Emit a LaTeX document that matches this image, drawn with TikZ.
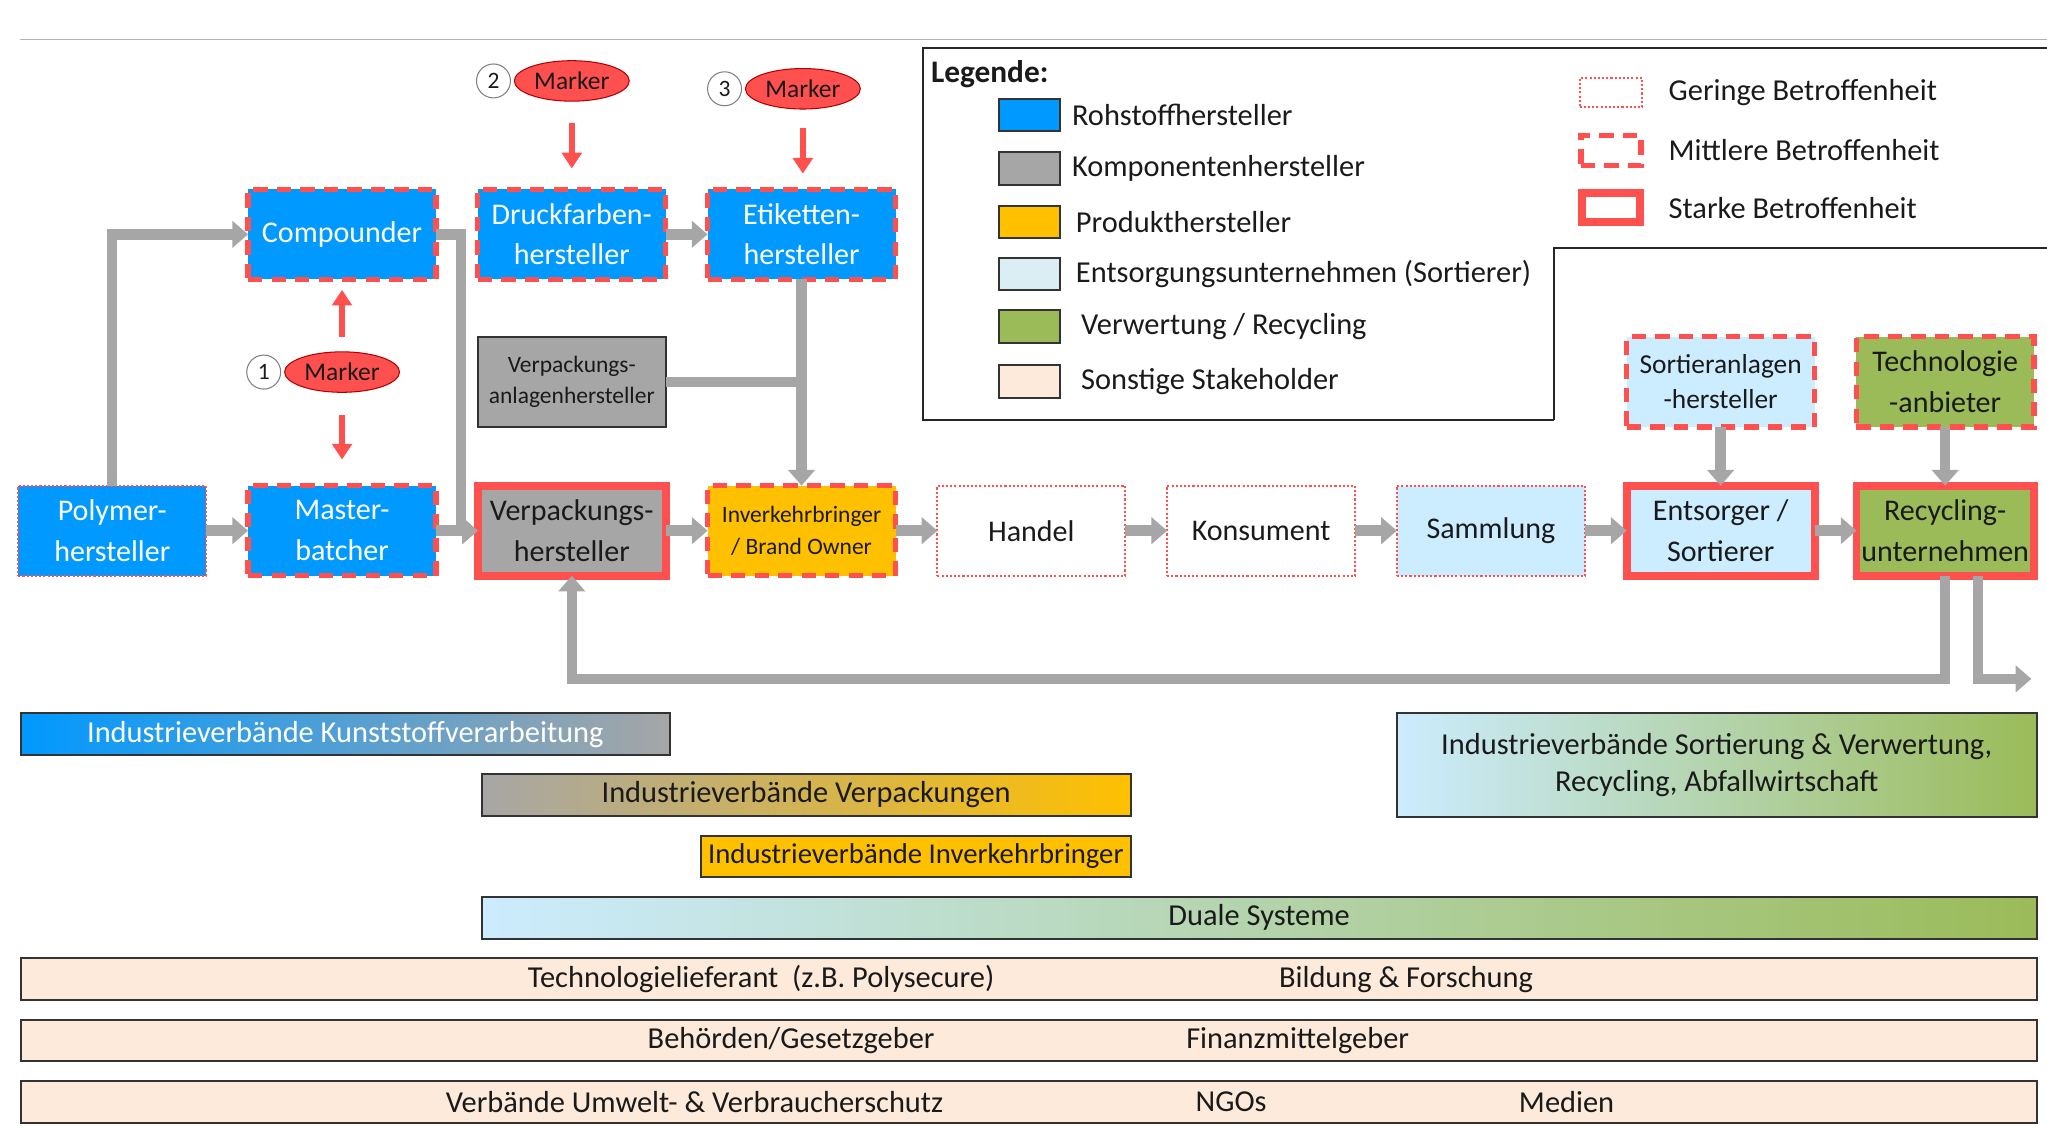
\documentclass[tikz,border=0pt]{standalone}
\usepackage{fontspec}
\setmainfont{Carlito}
\usetikzlibrary{positioning,arrows.meta,shapes.geometric}
\definecolor{rohblau}{RGB}{0,153,255}
\definecolor{kompgrau}{RGB}{166,166,166}
\definecolor{prodgelb}{RGB}{255,192,0}
\definecolor{entsblau}{RGB}{204,236,255}
\definecolor{legblau}{RGB}{218,238,243}
\definecolor{verwgruen}{RGB}{155,187,89}
\definecolor{sonstig}{RGB}{253,234,218}
\definecolor{rotlinie}{RGB}{255,80,80}
\definecolor{pfeilgrau}{RGB}{166,166,166}
\definecolor{textschwarz}{RGB}{26,26,26}

\begin{document}
\begin{tikzpicture}[x=1pt, y=-1pt, node distance=32pt and 32pt, text=textschwarz,
  box/.style={minimum width=144pt, minimum height=69pt, inner sep=0pt, outer sep=0pt, align=center,
    font=\fontsize{23}{31}\selectfont},
  klein/.style={font=\fontsize{18}{24.5}\selectfont},
  gering/.style={draw=rotlinie, line width=1.6pt, dash pattern=on 1.6pt off 1.6pt},
  mittel/.style={draw=rotlinie, line width=4pt, dash pattern=on 11pt off 7pt},
  stark/.style={draw=rotlinie, line width=6pt},
  pfeil/.style={draw=pfeilgrau, line width=8pt, -{Triangle[length=12pt,width=20pt]}},
  linie/.style={draw=pfeilgrau, line width=8pt},
  rotpfeil/.style={draw=rotlinie, line width=5pt, -{Triangle[length=12pt,width=15pt]}},
  markerel/.style={ellipse, fill=rotlinie, draw=red!70!black, line width=0.8pt, minimum width=88pt,
    minimum height=31pt, inner sep=0pt, outer sep=0pt, font=\fontsize{19.5}{22}\selectfont},
  nummer/.style={circle, draw=gray, fill=white, line width=0.8pt, minimum size=26pt, inner sep=0pt,
    outer sep=0pt, font=\fontsize{18}{20}\selectfont},
  rahmen/.style={draw=black!85, line width=1.5pt},
  legtext/.style={anchor=west, inner sep=0pt, font=\fontsize{23.3}{27}\selectfont},
  farbfeld/.style={draw=black!80, line width=1.5pt, minimum width=47pt, minimum height=25pt, inner sep=0pt,
    outer sep=0pt},
  balken/.style={draw=black!80, line width=1.5pt, minimum height=32pt, inner sep=0pt, outer sep=0pt,
    align=center, font=\fontsize{23.3}{28}\selectfont},
  balkentext/.style={inner sep=0pt, font=\fontsize{23.3}{27}\selectfont}]
  \useasboundingbox (0,0) rectangle (1568,862);
  \draw[gray!60, line width=1pt] (15,30) -- (1568,30);

  % Hauptkette
  \node[box, gering, fill=rohblau, text=white] (poly) at (86,406.5) {Polymer-\\hersteller};
  \node[box, mittel, fill=rohblau, text=white, right=of poly] (master) {Master-\\batcher};
  \node[box, stark, fill=kompgrau, right=of master] (verp) {Verpackungs-\\hersteller};
  \node[box, klein, mittel, fill=prodgelb, right=of verp] (inv) {Inverkehrbringer\\/ Brand Owner};
  \node[box, gering, fill=white, right=of inv] (handel) {Handel};
  \node[box, gering, fill=white, right=of handel] (kons) {Konsument};
  \node[box, gering, fill=entsblau, right=of kons] (samml) {Sammlung};
  \node[box, stark, fill=entsblau, right=of samml] (entsorg) {Entsorger /\\Sortierer};
  \node[box, stark, fill=verwgruen, minimum width=136pt, right=of entsorg] (recyc) {Recycling-\\unternehmen};

  % Zulieferer oben
  \node[box, mittel, fill=rohblau, text=white, above=158pt of master] (comp) {Compounder};
  \node[box, mittel, fill=rohblau, text=white, right=of comp] (druck) {Druckfarben-\\hersteller};
  \node[box, mittel, fill=rohblau, text=white, right=of druck] (etik) {Etiketten-\\hersteller};
  \node[box, klein, fill=kompgrau, draw=black!80, line width=1.5pt, above=45pt of verp] (vaa) {Verpackungs-\\anlagenhersteller};
  \node[box, mittel, fill=entsblau, font=\fontsize{21}{27}\selectfont, above=45pt of entsorg] (sortanl) {Sortieranlagen\\-hersteller};
  \node[box, mittel, fill=verwgruen, minimum width=136pt, above=45pt of recyc] (techanb) {Technologie\\-anbieter};

  % Marker
  \node[markerel] (m1) at (262,285) {Marker};
  \node[nummer, left=3pt of m1] (n1) {1};
  \node[markerel] (m2) at (438,62) {Marker};
  \node[nummer, left=3pt of m2] (n2) {2};
  \node[markerel] (m3) at (615,68) {Marker};
  \node[nummer, left=3pt of m3] (n3) {3};
  \draw[rotpfeil, shorten <=11.5pt, shorten >=8pt] (m1.north) -- (m1.north |- comp.south);
  \draw[rotpfeil, shorten <=17.5pt, shorten >=20pt] (m1.south) -- (m1.south |- master.north);
  \draw[rotpfeil, shorten <=17pt, shorten >=16pt] (m2.south) -- (m2.south |- druck.north);
  \draw[rotpfeil, shorten <=14.5pt, shorten >=12pt] (m3.south) -- (m3.south |- etik.north);

  % Fluesse
  \draw[pfeil] (poly) -- (master);
  \draw[pfeil] (poly.north) |- (comp.west);
  \draw[pfeil] (comp.east) -- ++(19,0) |- (verp.west);
  \draw[pfeil] (master) -- (verp);
  \draw[pfeil] (druck) -- (etik);
  \draw[linie] (vaa.east) -- (vaa.east -| etik.south);
  \draw[pfeil] (etik) -- (inv);
  \foreach \a/\b in {verp/inv, inv/handel, handel/kons, kons/samml, samml/entsorg, entsorg/recyc}
    \draw[pfeil] (\a) -- (\b);
  \draw[pfeil] (sortanl) -- (entsorg);
  \draw[pfeil] (techanb) -- (recyc);
  \draw[pfeil] (recyc.south) -- ++(0,79) -| (verp.south);
  \coordinate (ausgang) at (1556,520);
  \draw[pfeil] ([xshift=25pt]recyc.south) |- (ausgang);

  % Legende
  \draw[rahmen] (1190,322) -- (707,322) -- (707,37) -- (1570,37);
  \draw[rahmen] (1190,322) -- (1190,190) -- (1570,190);
  \node[anchor=west, inner sep=0pt, font=\fontsize{24}{28}\selectfont\bfseries] (legende) at (713,57) {Legende:};
  \foreach \y/\farbe/\abst/\bez [count=\i] in {88/rohblau/9/Rohstoffhersteller, 129/kompgrau/9/Komponentenhersteller,
      170/prodgelb/12/Produkthersteller, 210/legblau/12/{Entsorgungsunternehmen (Sortierer)},
      250/verwgruen/16/{Verwertung / Recycling}, 292/sonstig/16/Sonstige Stakeholder} {
    \node[farbfeld, fill=\farbe] (feld\i) at (788.5,\y) {};
    \node[legtext, right=\abst pt of feld\i] (legtext\i) {\bez};
  }
  \node[gering, minimum width=48pt, minimum height=22pt] (grad1) at (1234,71) {};
  \node[mittel, minimum width=46pt, minimum height=23pt] (grad2) at (1234,115) {};
  \node[stark, minimum width=44pt, minimum height=22pt] (grad3) at (1234,159) {};
  \node[legtext] (gradtext1) at (1278,71) {Geringe Betroffenheit};
  \node[legtext] (gradtext2) at (1278,115) {Mittlere Betroffenheit};
  \node[legtext] (gradtext3) at (1278,159) {Starke Betroffenheit};

  % Verbaende und sonstige Stakeholder
  \node[balken, minimum width=497pt, left color=rohblau, right color=kompgrau, text=white] (ivkunst)
    at (264.5,562.5) {Industrieverbände Kunststoffverarbeitung};
  \node[balken, minimum width=497pt, left color=kompgrau, right color=prodgelb] (ivverp)
    at (617.5,609) {Industrieverbände Verpackungen};
  \node[balken, minimum width=329pt, fill=prodgelb, font=\fontsize{22}{26}\selectfont] (ivinv)
    at (701.5,656) {Industrieverbände Inverkehrbringer};
  \node[balken, minimum width=490pt, minimum height=80pt, left color=entsblau, right color=verwgruen] (ivsort)
    at (1315,586) {Industrieverbände Sortierung \& Verwertung,\\Recycling, Abfallwirtschaft};
  \node[balken, minimum width=1191pt, left color=entsblau, right color=verwgruen] (duale)
    at (964.5,703) {Duale Systeme};
  \node[balken, minimum width=1544pt, fill=sonstig] (sonst1) at (788,750) {};
  \node[balken, minimum width=1544pt, fill=sonstig] (sonst2) at (788,797) {};
  \node[balken, minimum width=1544pt, fill=sonstig] (sonst3) at (788,844) {};
  \node[balkentext] (techlief) at (583,750) {Technologielieferant~ (z.B. Polysecure)};
  \node[balkentext] (bildung) at (1077,750) {Bildung \& Forschung};
  \node[balkentext] (behoerden) at (606,797) {Behörden/Gesetzgeber};
  \node[balkentext] (finanz) at (994,797) {Finanzmittelgeber};
  \node[balkentext] (verbaende) at (532,844) {Verbände Umwelt- \& Verbraucherschutz};
  \node[balkentext] (ngos) at (943,844) {NGOs};
  \node[balkentext] (medien) at (1200,844) {Medien};
\end{tikzpicture}
\end{document}
